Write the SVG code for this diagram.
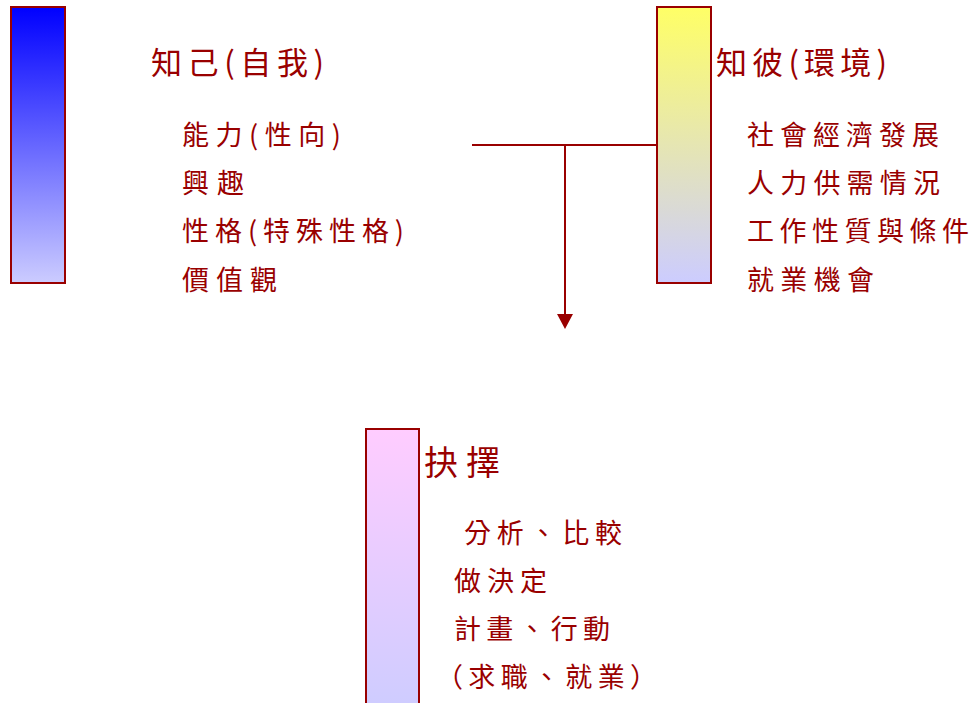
<svg xmlns="http://www.w3.org/2000/svg" width="971" height="703" viewBox="0 0 971 703">
<defs>
<linearGradient id="gBlue" x1="0" y1="0" x2="0" y2="1"><stop offset="0" stop-color="#0000FF"/><stop offset="1" stop-color="#CCCCFF"/></linearGradient>
<linearGradient id="gYellow" x1="0" y1="0" x2="0" y2="1"><stop offset="0" stop-color="#FFFF66"/><stop offset="1" stop-color="#CCCCFF"/></linearGradient>
<linearGradient id="gPink" x1="0" y1="0" x2="0" y2="1"><stop offset="0" stop-color="#FFCCFF"/><stop offset="1" stop-color="#CCCCFF"/></linearGradient>
</defs>
<style>
.bar{stroke:#990000;stroke-width:2}
text{font-family:"Noto Sans CJK TC","Noto Sans CJK SC",sans-serif;fill:#990000}
.t{font-size:31px}
.tb{font-size:34px}
.l{font-size:27px}
.conn{stroke:#990000;stroke-width:2;fill:none}
</style>
<rect width="971" height="703" fill="#FFFFFF"/>
<g id="node-self">
<rect class="bar" x="11" y="7" width="54" height="276" fill="url(#gBlue)"/>
<text class="t" x="151" y="74" textLength="173" lengthAdjust="spacing">知己(自我)</text>
<text class="l" x="182" y="145" textLength="159" lengthAdjust="spacing">能力(性向)</text>
<text class="l" x="182" y="193" textLength="62" lengthAdjust="spacing">興趣</text>
<text class="l" x="182" y="241" textLength="222" lengthAdjust="spacing">性格(特殊性格)</text>
<text class="l" x="182" y="290" textLength="95" lengthAdjust="spacing">價值觀</text>
</g>
<g id="node-env">
<rect class="bar" x="657" y="7" width="54" height="276" fill="url(#gYellow)"/>
<text class="t" x="716" y="74" textLength="171" lengthAdjust="spacing">知彼(環境)</text>
<text class="l" x="747" y="145" textLength="192" lengthAdjust="spacing">社會經濟發展</text>
<text class="l" x="747" y="193" textLength="193" lengthAdjust="spacing">人力供需情況</text>
<text class="l" x="747" y="241" textLength="222" lengthAdjust="spacing">工作性質與條件</text>
<text class="l" x="747" y="290" textLength="127" lengthAdjust="spacing">就業機會</text>
</g>
<g id="node-choice">
<rect class="bar" x="366" y="429" width="53" height="290" fill="url(#gPink)"/>
<text class="tb" x="424" y="475" textLength="76" lengthAdjust="spacing">抉擇</text>
<text class="l" x="464" y="543" textLength="158" lengthAdjust="spacing">分析、比較</text>
<text class="l" x="454" y="591" textLength="93" lengthAdjust="spacing">做決定</text>
<text class="l" x="454" y="639" textLength="156" lengthAdjust="spacing">計畫、行動</text>
<text class="l" x="436" y="687" textLength="221" lengthAdjust="spacing">（求職、就業）</text>
</g>
<g id="connectors">
<line class="conn" x1="472" y1="145" x2="657" y2="145"/>
<line class="conn" x1="565" y1="145" x2="565" y2="315"/>
<polygon points="557,314 573,314 565,329" fill="#990000"/>
</g>
</svg>
